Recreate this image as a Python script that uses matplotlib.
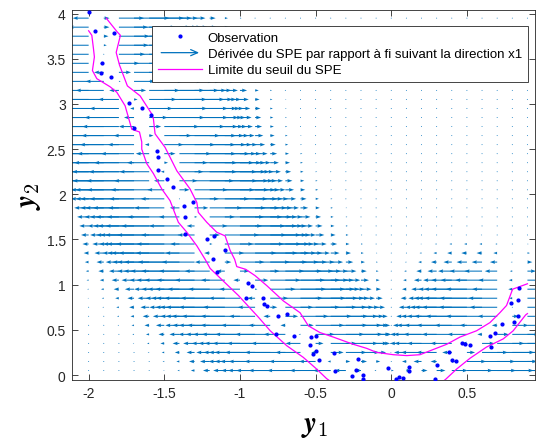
import numpy as np
import matplotlib
matplotlib.use("Agg")
import matplotlib.pyplot as plt
from matplotlib.lines import Line2D
from matplotlib.legend_handler import HandlerBase
from matplotlib.patches import FancyArrowPatch

plt.rcParams['font.family'] = ['Liberation Sans', 'DejaVu Sans']
plt.rcParams['axes.unicode_minus'] = False

# ---- data ----
obs_x = [-2.00, -1.96, -1.83, -1.91, -1.92, -1.85, -1.73, -1.65, -1.59, -1.70,
         -1.55, -1.54, -1.54, -1.48, -1.44, -1.31, -1.37, -1.36, -1.36, -1.22,
         -1.17, -1.10, -1.18, -1.15, -0.95, -0.92, -0.96, -0.85, -0.84, -0.82,
         -0.69, -0.75, -0.76, -0.64, -0.53, -0.50, -0.54, -0.50, -0.52, -0.48,
         -0.38, -0.37, -0.22, -0.23, -0.185, -0.26, -0.19, -0.02, 0.03, 0.05,
         0.08, 0.12, 0.115, 0.29, 0.30, 0.38, 0.40, 0.43, 0.47, 0.49,
         0.52, 0.65, 0.685, 0.66, 0.73, 0.81, 0.835, 0.79, 0.84, 0.845]
obs_y = [4.02, 3.81, 3.79, 3.45, 3.34, 3.30, 3.01, 2.96, 2.88, 2.73,
         2.48, 2.41, 2.27, 2.17, 2.08, 1.92, 1.875, 1.75, 1.56, 1.51,
         1.54, 1.38, 1.28, 1.14, 1.015, 0.99, 0.85, 0.85, 0.79, 0.76,
         0.68, 0.65, 0.45, 0.435, 0.42, 0.43, 0.33, 0.27, 0.23, 0.17,
         0.24, 0.04, 0.18, 0.055, 0.0, -0.01, -0.04, 0.08, -0.04, -0.02,
         -0.03, 0.09, 0.045, -0.04, 0.11, 0.25, 0.17, 0.16, 0.36, 0.34,
         0.33, 0.435, 0.46, 0.31, 0.57, 0.59, 0.65, 0.80, 0.83, 0.96]

lim_up_x = [-1.884, -1.81, -1.79, -1.818, -1.796, -1.744, -1.66, -1.583, -1.572, -1.561,
            -1.495, -1.462, -1.417, -1.33, -1.285, -1.275, -1.219, -1.153, -1.098, -1.065,
            -1.035, -1.021, -0.962, -0.90, -0.823, -0.713, -0.603, -0.548, -0.471, -0.383,
            -0.251, -0.162, -0.096, 0.014, 0.102, 0.19, 0.289, 0.366, 0.454, 0.564,
            0.652, 0.718, 0.762, 0.802, 0.90]
lim_up_y = [3.95, 3.795, 3.76, 3.57, 3.43, 3.20, 3.09, 2.89, 2.835, 2.67,
            2.52, 2.41, 2.26, 2.06, 1.91, 1.80, 1.69, 1.58, 1.54, 1.38,
            1.28, 1.20, 1.17, 1.10, 0.99, 0.82, 0.69, 0.545, 0.47, 0.42,
            0.34, 0.295, 0.25, 0.225, 0.215, 0.225, 0.29, 0.34, 0.42, 0.49,
            0.58, 0.69, 0.77, 0.95, 1.01]

lim_lo1_x = [-2.0, -1.979, -1.968, -1.962, -1.975, -1.946, -1.858, -1.814, -1.759, -1.737,
             -1.715, -1.664, -1.649, -1.649, -1.616, -1.572, -1.517, -1.462, -1.407, -1.351,
             -1.285, -1.23, -1.197, -1.11, -1.01, -0.878, -0.80, -0.691, -0.581, -0.493,
             -0.427, -0.41]
lim_lo1_y = [3.81, 3.76, 3.61, 3.52, 3.37, 3.28, 3.19, 3.13, 2.98, 2.85,
             2.72, 2.69, 2.58, 2.50, 2.34, 2.23, 2.06, 1.93, 1.69, 1.58,
             1.43, 1.28, 1.18, 1.04, 0.88, 0.64, 0.49, 0.325, 0.195, 0.066,
             -0.04, -0.06]
lim_lo2_x = [0.35, 0.361, 0.432, 0.52, 0.63, 0.74, 0.806, 0.888, 0.90]
lim_lo2_y = [-0.06, -0.045, 0.066, 0.185, 0.31, 0.40, 0.49, 0.665, 0.68]

x_ticks = [-2, -1.5, -1, -0.5, 0, 0.5]
y_ticks = [0, 0.5, 1, 1.5, 2, 2.5, 3, 3.5, 4]
legend_labels = ['Observation',
                 'Dérivée du SPE par rapport à fi suivant la direction x1',
                 'Limite du seuil du SPE']

# ---- SPE of a kernel PCA model fitted on the observations, and its x1-derivative ----
Xd = np.column_stack([obs_x, obs_y])
n = len(Xd)
c_ker = 0.25
n_comp = 8
D2 = ((Xd[:, None, :] - Xd[None, :, :]) ** 2).sum(-1)
K = np.exp(-D2 / c_ker)
H = np.eye(n) - 1.0 / n
Kc = H @ K @ H
lam, vec = np.linalg.eigh(Kc)
order = np.argsort(lam)[::-1][:n_comp]
alpha = vec[:, order] / np.sqrt(lam[order])
Kmean0 = K.mean(axis=0)
Kmean = K.mean()


def spe(P):
    d2 = ((P[:, None, :] - Xd[None, :, :]) ** 2).sum(-1)
    kx = np.exp(-d2 / c_ker)
    kt = kx - kx.mean(axis=1, keepdims=True) - Kmean0[None, :] + Kmean
    t = kt @ alpha
    return 1 - 2 * kx.mean(axis=1) + Kmean - (t ** 2).sum(axis=1)


gx = np.arange(-2.0, 0.95, 0.1)
gy = np.arange(0.05, 4.0, 0.1)
GX, GY = np.meshgrid(gx, gy)
P = np.column_stack([GX.ravel(), GY.ravel()])
h = 1e-4
U = ((spe(P + [h, 0]) - spe(P - [h, 0])) / (2 * h)).reshape(GX.shape)
V = np.zeros_like(U)

blue = (0, 0.447, 0.741)

fig = plt.figure(figsize=(5.37, 4.39), dpi=100)
ax = fig.add_axes([72 / 537, 58 / 439, 463 / 537, 370 / 439])

L = 0.32
scale = np.abs(U).max() / L
ax.quiver(GX, GY, U, V, angles='xy', scale_units='xy', scale=scale, color=blue,
          width=0.0022, headwidth=3.5, headlength=5, headaxislength=4.5, zorder=1)
ax.plot(obs_x, obs_y, '.', color=(0, 0, 1), markersize=4, zorder=3)
ax.plot(lim_up_x, lim_up_y, color=(1, 0, 1), lw=0.9, zorder=2)
ax.plot(lim_lo1_x, lim_lo1_y, color=(1, 0, 1), lw=0.9, zorder=2)
ax.plot(lim_lo2_x, lim_lo2_y, color=(1, 0, 1), lw=0.9, zorder=2)

ax.set_xlim(-2.11, 0.95)
ax.set_ylim(-0.055, 4.04)
ax.set_xticks(x_ticks)
ax.set_xticklabels([f'{t:g}' for t in x_ticks])
ax.set_yticks(y_ticks)
ax.set_yticklabels([f'{t:g}' for t in y_ticks])
ax.tick_params(direction='in', top=True, right=True, length=4, width=0.6,
               labelsize=10, colors='#262626', pad=4.5)
for s in ax.spines.values():
    s.set_color('#262626')
    s.set_linewidth(0.6)

ax.set_xlabel(r'$\boldsymbol{y}_1$', fontsize=21, math_fontfamily='cm')
ax.set_ylabel(r'$\boldsymbol{y}_2$', fontsize=21, math_fontfamily='cm')
ax.xaxis.set_label_coords(0.525, -0.085)
ax.yaxis.set_label_coords(-0.062, 0.5)


class ArrowHandler(HandlerBase):
    def create_artists(self, legend, orig_handle, xdescent, ydescent, width, height,
                       fontsize, trans):
        y = height / 2 - ydescent
        a = FancyArrowPatch((-xdescent, y), (-xdescent + width, y),
                            arrowstyle='->,head_length=5,head_width=2.2',
                            mutation_scale=1, color=blue, lw=0.9, transform=trans)
        return [a]


arrow_proxy = object()
h_obs = Line2D([], [], ls='none', marker='.', color=(0, 0, 1), markersize=4)
h_lim = Line2D([], [], color=(1, 0, 1), lw=0.9)
leg = ax.legend([h_obs, arrow_proxy, h_lim], legend_labels,
                handler_map={arrow_proxy: ArrowHandler()},
                loc='upper right', bbox_to_anchor=(0.985, 0.957), borderaxespad=0,
                fontsize=9.5, handlelength=3.3, handletextpad=0.45, borderpad=0.45,
                labelspacing=0.3, fancybox=False, framealpha=1, edgecolor='#262626')
leg.get_frame().set_linewidth(0.6)
leg.set_zorder(5)

fig.savefig('out.png', dpi=100)
